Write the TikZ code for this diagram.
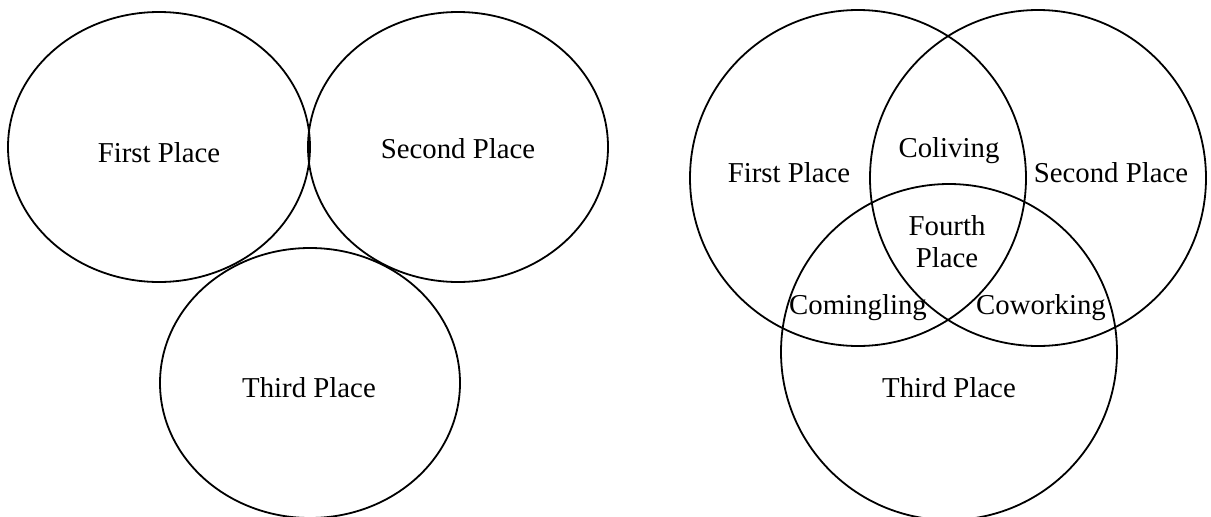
\documentclass[tikz,border=0pt]{standalone}
\usepackage{fontspec}
\setmainfont{Liberation Serif}
\begin{document}
\begin{tikzpicture}[
    x=1pt, y=-1pt,
    font=\fontsize{28.8}{32}\selectfont,
    ring/.style={draw, line width=1.8pt},
    tag/.style={anchor=base, inner sep=0pt, align=center}
]
\useasboundingbox (0,0) rectangle (1211,517);
% three separate places
\draw[ring] (159,147) ellipse [x radius=151, y radius=135];
\draw[ring] (458,147) ellipse [x radius=150, y radius=135];
\draw[ring] (310,383) ellipse [x radius=150, y radius=135];
\node[tag] (firstA) at (159,162) {First Place};
\node[tag] (secondA) at (458,158) {Second Place};
\node[tag] (thirdA) at (309,397) {Third Place};

% overlapping places
\draw[ring] (858,178) circle [radius=168];
\draw[ring] (1038,178) circle [radius=168];
\draw[ring] (949,352) circle [radius=168];
\node[tag] (firstB) at (789,182) {First Place};
\node[tag] (secondB) at (1111,182) {Second Place};
\node[tag] (thirdB) at (949,397) {Third Place};
\node[tag] (coliving) at (949,157) {Coliving};
\node[tag, anchor=center] (fourth) at (947,242) {Fourth\\Place};
\node[tag] (comingling) at (858,314) {Comingling};
\node[tag] (coworking) at (1041,314) {Coworking};
\end{tikzpicture}
\end{document}
